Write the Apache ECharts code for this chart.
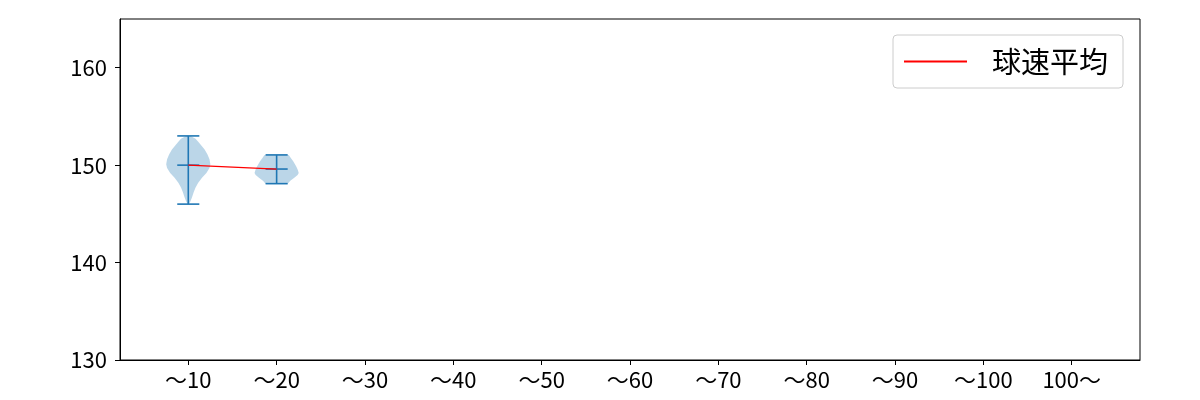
<!DOCTYPE html>
<html>
<head>
<meta charset="utf-8">
<script src="https://cdn.jsdelivr.net/npm/echarts@6/dist/echarts.min.js"></script>
<style>
  html, body { margin: 0; padding: 0; background: #fff; }
  #main { width: 1200px; height: 400px; }
</style>
</head>
<body>
<div id="main"></div>
<script>
// x categories (positions 1..11)
const categories = ['〜10', '〜20', '〜30', '〜40', '〜50', '〜60', '〜70', '〜80', '〜90', '〜100', '100〜'];
const yTicks = [130, 140, 150, 160];

// per-violin stats (only first two bins have data)
const violinPos = [1, 2];
const mins = [146, 148.1];
const maxs = [153, 151.05];
const means = [150.0, 149.6];

// density outline (value, relative half width)
const violin1Values = [146, 146.3, 146.7, 147.2, 147.7, 148.2, 148.7, 149.2, 149.7, 150.1, 150.6, 151.1, 151.6, 152.0, 152.4, 152.7, 153];
const violin1Widths = [0.03, 0.1, 0.17, 0.24, 0.33, 0.45, 0.62, 0.82, 0.96, 1.0, 0.96, 0.87, 0.74, 0.6, 0.45, 0.33, 0.1];
const violin2Values = [148.1, 148.4, 148.7, 149.0, 149.2, 149.5, 149.8, 150.1, 150.4, 150.7, 151.05];
const violin2Widths = [0.5, 0.62, 0.8, 0.95, 1.0, 0.96, 0.9, 0.83, 0.75, 0.65, 0.55];

const profiles = [
  { values: violin1Values, widths: violin1Widths },
  { values: violin2Values, widths: violin2Widths }
];

const HALF = 0.25;   // max half width in x units
const CAP = 0.125;   // half length of the caps
const BLUE = '#1f77b4';
const FONT = '"Noto Sans CJK JP", "Noto Sans", sans-serif';

function renderViolin(params, api) {
  const i = params.dataIndex;
  const x = violinPos[i];
  const p = profiles[i];
  const right = [], left = [];
  for (let k = 0; k < p.values.length; k++) {
    right.push(api.coord([x + p.widths[k] * HALF, p.values[k]]));
    left.push(api.coord([x - p.widths[k] * HALF, p.values[k]]));
  }
  const pts = right.concat(left.reverse());
  const lineStyle = { stroke: BLUE, lineWidth: 1.6 };
  const seg = function (x1, x2, y1, y2) {
    const a = api.coord([x1, y1]), b = api.coord([x2, y2]);
    return { type: 'line', shape: { x1: a[0], y1: a[1], x2: b[0], y2: b[1] }, style: lineStyle };
  };
  return {
    type: 'group',
    children: [
      { type: 'polygon', shape: { points: pts }, style: { fill: 'rgba(31,119,180,0.3)', stroke: 'none' } },
      seg(x, x, mins[i], maxs[i]),
      seg(x - CAP, x + CAP, mins[i], mins[i]),
      seg(x - CAP, x + CAP, maxs[i], maxs[i]),
      seg(x - CAP, x + CAP, means[i], means[i])
    ]
  };
}

const chart = echarts.init(document.getElementById('main'), null, { renderer: 'canvas' });

chart.setOption({
  animation: false,
  textStyle: { fontFamily: FONT },
  grid: {
    left: 120, right: 60, top: 19, bottom: 40,
    show: true, borderColor: '#000', borderWidth: 1
  },
  legend: {
    left: 893, top: 35,
    padding: [12, 15, 12, 11],
    borderColor: '#cccccc', borderWidth: 1, borderRadius: 4,
    itemWidth: 63, itemHeight: 2,
    data: [{ name: '球速平均', icon: 'rect' }],
    textStyle: { fontSize: 29, color: '#000', fontFamily: FONT, padding: [0, 0, 0, 20] }
  },
  xAxis: {
    type: 'value',
    min: 0.227, max: 11.773,
    splitLine: { show: false },
    axisLine: { lineStyle: { color: '#000' } },
    axisTick: { show: true, length: 5, lineStyle: { color: '#000' }, customValues: [1, 2, 3, 4, 5, 6, 7, 8, 9, 10, 11] },
    axisLabel: {
      customValues: [1, 2, 3, 4, 5, 6, 7, 8, 9, 10, 11],
      formatter: function (v) { return categories[Math.round(v) - 1]; },
      fontSize: 22, color: '#000', margin: 9, fontFamily: FONT
    }
  },
  yAxis: {
    type: 'value',
    min: 130, max: 165,
    splitLine: { show: false },
    axisLine: { show: true, lineStyle: { color: '#000' } },
    axisTick: { show: true, length: 5, lineStyle: { color: '#000' }, customValues: yTicks },
    axisLabel: { customValues: yTicks, fontSize: 22, color: '#000', margin: 13, fontFamily: FONT }
  },
  series: [
    {
      type: 'custom',
      name: 'violin',
      renderItem: renderViolin,
      data: violinPos.map(function (x, i) { return [x, means[i]]; }),
      z: 2
    },
    {
      type: 'line',
      name: '球速平均',
      data: violinPos.map(function (x, i) { return [x, means[i]]; }),
      symbol: 'none',
      lineStyle: { color: 'red', width: 1.2 },
      itemStyle: { color: 'red' },
      z: 3
    }
  ]
});
</script>
</body>
</html>
